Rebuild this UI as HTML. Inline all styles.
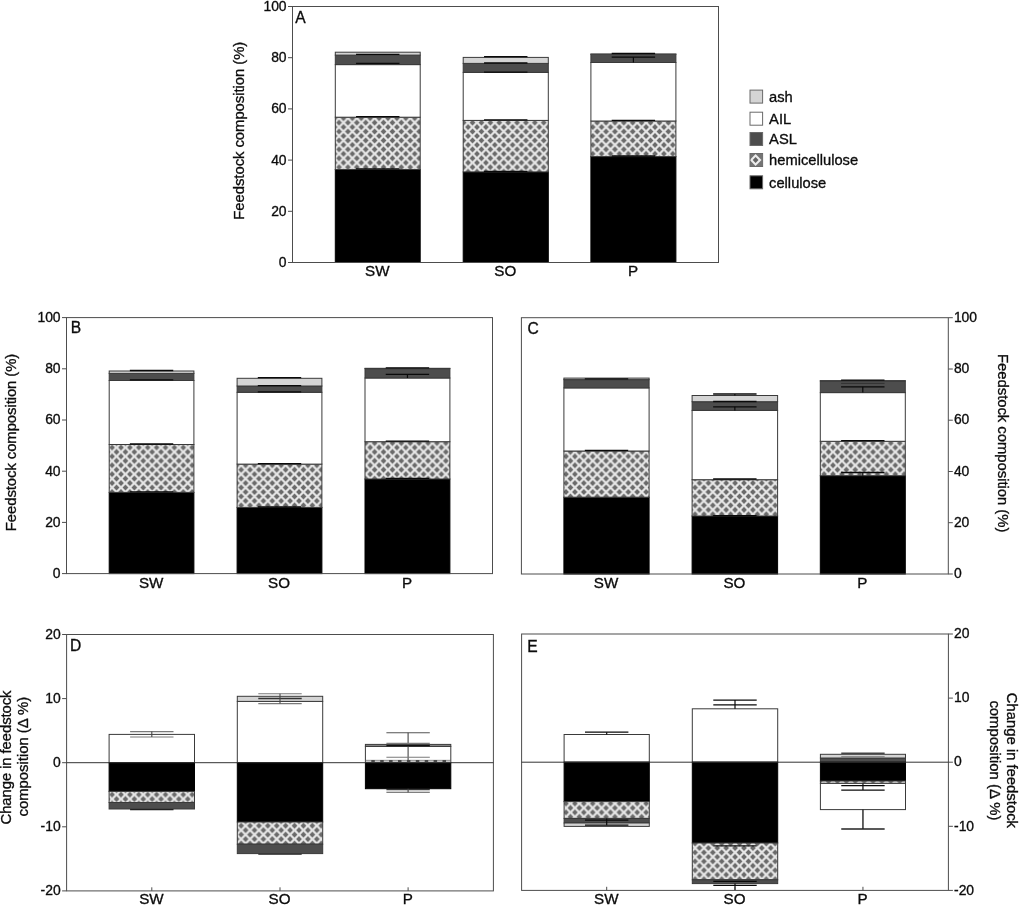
<!DOCTYPE html>
<html lang="en">
<head>
<meta charset="utf-8">
<title>Feedstock composition</title>
<style>
html,body{margin:0;padding:0;background:#ffffff;}
body{width:1019px;height:905px;overflow:hidden;}
svg{display:block;}
text{font-family:"Liberation Sans", Arial, Helvetica, sans-serif;fill:#0c0c0c;stroke:#0c0c0c;stroke-width:0.32px;}
</style>
</head>
<body>
<svg width="1019" height="905" viewBox="0 0 1019 905">
<defs>
<pattern id="hx" x="334.6" y="118.2" width="8.9" height="8.9" patternUnits="userSpaceOnUse">
<rect x="0" y="0" width="8.9" height="8.9" fill="#e6e6e6"/>
<path d="M4.45 1.55 L7.35 4.45 L4.45 7.35 L1.55 4.45 Z" fill="#6a6a6a"/>
<path d="M0 -2.9 L2.9 0 L0 2.9 L-2.9 0 Z M8.9 -2.9 L11.8 0 L8.9 2.9 L6 0 Z M0 6 L2.9 8.9 L0 11.8 L-2.9 8.9 Z M8.9 6 L11.8 8.9 L8.9 11.8 L6 8.9 Z" fill="#6a6a6a"/>
</pattern>
</defs>
<rect x="0" y="0" width="1019" height="905" fill="#ffffff"/>
<g id="A">
<rect x="335.30" y="169.50" width="84.90" height="93.00" fill="#000000" stroke="#000000" stroke-width="1"/>
<rect x="335.30" y="117.20" width="84.90" height="52.30" fill="url(#hx)" stroke="#3a3a3a" stroke-width="1"/>
<rect x="335.30" y="64.60" width="84.90" height="52.60" fill="#ffffff" stroke="#3a3a3a" stroke-width="1"/>
<rect x="335.30" y="55.10" width="84.90" height="9.50" fill="#4d4d4d" stroke="#3a3a3a" stroke-width="1"/>
<rect x="335.30" y="52.20" width="84.90" height="2.90" fill="#d4d4d4" stroke="#3a3a3a" stroke-width="1"/>
<line x1="356.05" y1="168.90" x2="399.45" y2="168.90" stroke="#0a0a0a" stroke-width="1.3"/>
<line x1="356.05" y1="116.60" x2="399.45" y2="116.60" stroke="#0a0a0a" stroke-width="1.3"/>
<line x1="356.05" y1="63.30" x2="399.45" y2="63.30" stroke="#0a0a0a" stroke-width="1.3"/>
<line x1="356.05" y1="54.40" x2="399.45" y2="54.40" stroke="#0a0a0a" stroke-width="1.3"/>
<rect x="463.20" y="171.90" width="85.10" height="90.60" fill="#000000" stroke="#000000" stroke-width="1"/>
<rect x="463.20" y="120.40" width="85.10" height="51.50" fill="url(#hx)" stroke="#3a3a3a" stroke-width="1"/>
<rect x="463.20" y="72.40" width="85.10" height="48.00" fill="#ffffff" stroke="#3a3a3a" stroke-width="1"/>
<rect x="463.20" y="63.40" width="85.10" height="9.00" fill="#4d4d4d" stroke="#3a3a3a" stroke-width="1"/>
<rect x="463.20" y="57.40" width="85.10" height="6.00" fill="#d4d4d4" stroke="#3a3a3a" stroke-width="1"/>
<line x1="484.05" y1="171.30" x2="527.45" y2="171.30" stroke="#0a0a0a" stroke-width="1.3"/>
<line x1="484.05" y1="119.90" x2="527.45" y2="119.90" stroke="#0a0a0a" stroke-width="1.3"/>
<line x1="484.05" y1="72.20" x2="527.45" y2="72.20" stroke="#0a0a0a" stroke-width="1.3"/>
<line x1="484.05" y1="63.00" x2="527.45" y2="63.00" stroke="#0a0a0a" stroke-width="1.3"/>
<line x1="484.05" y1="56.70" x2="527.45" y2="56.70" stroke="#0a0a0a" stroke-width="1.3"/>
<rect x="590.90" y="156.60" width="85.00" height="105.90" fill="#000000" stroke="#000000" stroke-width="1"/>
<rect x="590.90" y="121.00" width="85.00" height="35.60" fill="url(#hx)" stroke="#3a3a3a" stroke-width="1"/>
<rect x="590.90" y="62.50" width="85.00" height="58.50" fill="#ffffff" stroke="#3a3a3a" stroke-width="1"/>
<rect x="590.90" y="54.30" width="85.00" height="8.20" fill="#4d4d4d" stroke="#3a3a3a" stroke-width="1"/>
<rect x="590.90" y="54.00" width="85.00" height="0.30" fill="#d4d4d4" stroke="#3a3a3a" stroke-width="1"/>
<line x1="611.70" y1="156.00" x2="655.10" y2="156.00" stroke="#0a0a0a" stroke-width="1.3"/>
<line x1="611.70" y1="120.40" x2="655.10" y2="120.40" stroke="#0a0a0a" stroke-width="1.3"/>
<line x1="611.70" y1="57.20" x2="655.10" y2="57.20" stroke="#0a0a0a" stroke-width="1.3"/>
<line x1="611.70" y1="53.50" x2="655.10" y2="53.50" stroke="#0a0a0a" stroke-width="1.3"/>
<line x1="633.40" y1="57.20" x2="633.40" y2="62.50" stroke="#0a0a0a" stroke-width="1.2"/>
<rect x="292.50" y="6.50" width="426.00" height="256.00" fill="none" stroke="#4d4d4d" stroke-width="1"/>
<line x1="288.00" y1="6.50" x2="292.50" y2="6.50" stroke="#4d4d4d" stroke-width="1"/>
<text x="286.60" y="10.98" font-size="13.9" text-anchor="end">100</text>
<line x1="288.00" y1="57.70" x2="292.50" y2="57.70" stroke="#4d4d4d" stroke-width="1"/>
<text x="286.60" y="62.18" font-size="13.9" text-anchor="end">80</text>
<line x1="288.00" y1="108.90" x2="292.50" y2="108.90" stroke="#4d4d4d" stroke-width="1"/>
<text x="286.60" y="113.38" font-size="13.9" text-anchor="end">60</text>
<line x1="288.00" y1="160.10" x2="292.50" y2="160.10" stroke="#4d4d4d" stroke-width="1"/>
<text x="286.60" y="164.58" font-size="13.9" text-anchor="end">40</text>
<line x1="288.00" y1="211.30" x2="292.50" y2="211.30" stroke="#4d4d4d" stroke-width="1"/>
<text x="286.60" y="215.78" font-size="13.9" text-anchor="end">20</text>
<line x1="288.00" y1="262.50" x2="292.50" y2="262.50" stroke="#4d4d4d" stroke-width="1"/>
<text x="286.60" y="266.98" font-size="13.9" text-anchor="end">0</text>
<text x="295.20" y="23.10" font-size="15.6" text-anchor="start">A</text>
<text x="377.35" y="276.30" font-size="15.2" text-anchor="middle">SW</text>
<text x="505.35" y="276.30" font-size="15.2" text-anchor="middle">SO</text>
<text x="633.00" y="276.30" font-size="15.2" text-anchor="middle">P</text>
<text x="243.90" y="130.70" font-size="14.9" text-anchor="middle" transform="rotate(-90 243.90 130.70)" textLength="178.0" lengthAdjust="spacing">Feedstock composition (%)</text>
</g>
<g id="B">
<rect x="109.20" y="492.40" width="84.70" height="81.20" fill="#000000" stroke="#000000" stroke-width="1"/>
<rect x="109.20" y="444.50" width="84.70" height="47.90" fill="url(#hx)" stroke="#3a3a3a" stroke-width="1"/>
<rect x="109.20" y="380.50" width="84.70" height="64.00" fill="#ffffff" stroke="#3a3a3a" stroke-width="1"/>
<rect x="109.20" y="373.40" width="84.70" height="7.10" fill="#4d4d4d" stroke="#3a3a3a" stroke-width="1"/>
<rect x="109.20" y="371.00" width="84.70" height="2.40" fill="#d4d4d4" stroke="#3a3a3a" stroke-width="1"/>
<line x1="129.85" y1="491.90" x2="173.25" y2="491.90" stroke="#0a0a0a" stroke-width="1.3"/>
<line x1="129.85" y1="444.00" x2="173.25" y2="444.00" stroke="#0a0a0a" stroke-width="1.3"/>
<line x1="129.85" y1="379.80" x2="173.25" y2="379.80" stroke="#0a0a0a" stroke-width="1.3"/>
<line x1="129.85" y1="370.50" x2="173.25" y2="370.50" stroke="#0a0a0a" stroke-width="1.3"/>
<rect x="237.10" y="507.40" width="84.80" height="66.20" fill="#000000" stroke="#000000" stroke-width="1"/>
<rect x="237.10" y="464.10" width="84.80" height="43.30" fill="url(#hx)" stroke="#3a3a3a" stroke-width="1"/>
<rect x="237.10" y="392.30" width="84.80" height="71.80" fill="#ffffff" stroke="#3a3a3a" stroke-width="1"/>
<rect x="237.10" y="386.00" width="84.80" height="6.30" fill="#4d4d4d" stroke="#3a3a3a" stroke-width="1"/>
<rect x="237.10" y="378.30" width="84.80" height="7.70" fill="#d4d4d4" stroke="#3a3a3a" stroke-width="1"/>
<line x1="257.80" y1="507.00" x2="301.20" y2="507.00" stroke="#0a0a0a" stroke-width="1.3"/>
<line x1="257.80" y1="463.60" x2="301.20" y2="463.60" stroke="#0a0a0a" stroke-width="1.3"/>
<line x1="257.80" y1="391.80" x2="301.20" y2="391.80" stroke="#0a0a0a" stroke-width="1.3"/>
<line x1="257.80" y1="385.60" x2="301.20" y2="385.60" stroke="#0a0a0a" stroke-width="1.3"/>
<line x1="257.80" y1="377.60" x2="301.20" y2="377.60" stroke="#0a0a0a" stroke-width="1.3"/>
<rect x="365.00" y="479.00" width="84.90" height="94.60" fill="#000000" stroke="#000000" stroke-width="1"/>
<rect x="365.00" y="441.70" width="84.90" height="37.30" fill="url(#hx)" stroke="#3a3a3a" stroke-width="1"/>
<rect x="365.00" y="378.00" width="84.90" height="63.70" fill="#ffffff" stroke="#3a3a3a" stroke-width="1"/>
<rect x="365.00" y="368.60" width="84.90" height="9.40" fill="#4d4d4d" stroke="#3a3a3a" stroke-width="1"/>
<rect x="365.00" y="368.30" width="84.90" height="0.30" fill="#d4d4d4" stroke="#3a3a3a" stroke-width="1"/>
<line x1="385.75" y1="478.40" x2="429.15" y2="478.40" stroke="#0a0a0a" stroke-width="1.3"/>
<line x1="385.75" y1="441.10" x2="429.15" y2="441.10" stroke="#0a0a0a" stroke-width="1.3"/>
<line x1="385.75" y1="374.30" x2="429.15" y2="374.30" stroke="#0a0a0a" stroke-width="1.3"/>
<line x1="385.75" y1="367.80" x2="429.15" y2="367.80" stroke="#0a0a0a" stroke-width="1.3"/>
<line x1="407.45" y1="374.30" x2="407.45" y2="378.00" stroke="#0a0a0a" stroke-width="1.2"/>
<rect x="66.50" y="317.60" width="426.00" height="256.00" fill="none" stroke="#4d4d4d" stroke-width="1"/>
<line x1="62.00" y1="317.60" x2="66.50" y2="317.60" stroke="#4d4d4d" stroke-width="1"/>
<text x="60.60" y="322.08" font-size="13.9" text-anchor="end">100</text>
<line x1="62.00" y1="368.80" x2="66.50" y2="368.80" stroke="#4d4d4d" stroke-width="1"/>
<text x="60.60" y="373.28" font-size="13.9" text-anchor="end">80</text>
<line x1="62.00" y1="420.00" x2="66.50" y2="420.00" stroke="#4d4d4d" stroke-width="1"/>
<text x="60.60" y="424.48" font-size="13.9" text-anchor="end">60</text>
<line x1="62.00" y1="471.20" x2="66.50" y2="471.20" stroke="#4d4d4d" stroke-width="1"/>
<text x="60.60" y="475.68" font-size="13.9" text-anchor="end">40</text>
<line x1="62.00" y1="522.40" x2="66.50" y2="522.40" stroke="#4d4d4d" stroke-width="1"/>
<text x="60.60" y="526.88" font-size="13.9" text-anchor="end">20</text>
<line x1="62.00" y1="573.60" x2="66.50" y2="573.60" stroke="#4d4d4d" stroke-width="1"/>
<text x="60.60" y="578.08" font-size="13.9" text-anchor="end">0</text>
<text x="70.70" y="332.80" font-size="15.6" text-anchor="start">B</text>
<text x="151.15" y="587.80" font-size="15.2" text-anchor="middle">SW</text>
<text x="279.10" y="587.80" font-size="15.2" text-anchor="middle">SO</text>
<text x="407.05" y="587.80" font-size="15.2" text-anchor="middle">P</text>
<text x="16.20" y="442.40" font-size="14.9" text-anchor="middle" transform="rotate(-90 16.20 442.40)" textLength="177.5" lengthAdjust="spacing">Feedstock composition (%)</text>
</g>
<g id="C">
<rect x="563.90" y="497.20" width="85.20" height="76.80" fill="#000000" stroke="#000000" stroke-width="1"/>
<rect x="563.90" y="451.00" width="85.20" height="46.20" fill="url(#hx)" stroke="#3a3a3a" stroke-width="1"/>
<rect x="563.90" y="387.90" width="85.20" height="63.10" fill="#ffffff" stroke="#3a3a3a" stroke-width="1"/>
<rect x="563.90" y="379.60" width="85.20" height="8.30" fill="#4d4d4d" stroke="#3a3a3a" stroke-width="1"/>
<rect x="563.90" y="378.10" width="85.20" height="1.50" fill="#d4d4d4" stroke="#3a3a3a" stroke-width="1"/>
<line x1="584.80" y1="450.30" x2="628.20" y2="450.30" stroke="#0a0a0a" stroke-width="1.3"/>
<line x1="584.80" y1="378.80" x2="628.20" y2="378.80" stroke="#0a0a0a" stroke-width="1.3"/>
<rect x="692.10" y="516.00" width="85.50" height="58.00" fill="#000000" stroke="#000000" stroke-width="1"/>
<rect x="692.10" y="479.70" width="85.50" height="36.30" fill="url(#hx)" stroke="#3a3a3a" stroke-width="1"/>
<rect x="692.10" y="410.40" width="85.50" height="69.30" fill="#ffffff" stroke="#3a3a3a" stroke-width="1"/>
<rect x="692.10" y="401.70" width="85.50" height="8.70" fill="#4d4d4d" stroke="#3a3a3a" stroke-width="1"/>
<rect x="692.10" y="395.50" width="85.50" height="6.20" fill="#d4d4d4" stroke="#3a3a3a" stroke-width="1"/>
<line x1="713.15" y1="515.60" x2="756.55" y2="515.60" stroke="#0a0a0a" stroke-width="1.3"/>
<line x1="713.15" y1="479.00" x2="756.55" y2="479.00" stroke="#0a0a0a" stroke-width="1.3"/>
<line x1="713.15" y1="406.80" x2="756.55" y2="406.80" stroke="#0a0a0a" stroke-width="1.3"/>
<line x1="713.15" y1="401.50" x2="756.55" y2="401.50" stroke="#0a0a0a" stroke-width="1.3"/>
<line x1="713.15" y1="394.00" x2="756.55" y2="394.00" stroke="#0a0a0a" stroke-width="1.3"/>
<line x1="734.85" y1="406.80" x2="734.85" y2="410.40" stroke="#0a0a0a" stroke-width="1.2"/>
<line x1="734.85" y1="394.00" x2="734.85" y2="395.50" stroke="#0a0a0a" stroke-width="1.2"/>
<rect x="820.30" y="475.70" width="85.00" height="98.30" fill="#000000" stroke="#000000" stroke-width="1"/>
<rect x="820.30" y="441.30" width="85.00" height="34.40" fill="url(#hx)" stroke="#3a3a3a" stroke-width="1"/>
<rect x="820.30" y="392.60" width="85.00" height="48.70" fill="#ffffff" stroke="#3a3a3a" stroke-width="1"/>
<rect x="820.30" y="381.00" width="85.00" height="11.60" fill="#4d4d4d" stroke="#3a3a3a" stroke-width="1"/>
<rect x="820.30" y="380.60" width="85.00" height="0.40" fill="#d4d4d4" stroke="#3a3a3a" stroke-width="1"/>
<line x1="841.10" y1="472.50" x2="884.50" y2="472.50" stroke="#0a0a0a" stroke-width="1.3"/>
<line x1="841.10" y1="440.60" x2="884.50" y2="440.60" stroke="#0a0a0a" stroke-width="1.3"/>
<line x1="841.10" y1="386.80" x2="884.50" y2="386.80" stroke="#0a0a0a" stroke-width="1.3"/>
<line x1="841.10" y1="380.20" x2="884.50" y2="380.20" stroke="#0a0a0a" stroke-width="1.3"/>
<line x1="841.10" y1="383.40" x2="884.50" y2="383.40" stroke="#2c2c2c" stroke-width="0.8"/>
<line x1="862.80" y1="472.50" x2="862.80" y2="475.70" stroke="#0a0a0a" stroke-width="1.2"/>
<line x1="862.80" y1="386.80" x2="862.80" y2="392.60" stroke="#0a0a0a" stroke-width="1.2"/>
<rect x="521.40" y="317.70" width="426.90" height="256.30" fill="none" stroke="#4d4d4d" stroke-width="1"/>
<line x1="948.30" y1="317.70" x2="952.80" y2="317.70" stroke="#4d4d4d" stroke-width="1"/>
<text x="953.90" y="321.98" font-size="13.9" text-anchor="start">100</text>
<line x1="948.30" y1="369.00" x2="952.80" y2="369.00" stroke="#4d4d4d" stroke-width="1"/>
<text x="953.90" y="373.28" font-size="13.9" text-anchor="start">80</text>
<line x1="948.30" y1="420.20" x2="952.80" y2="420.20" stroke="#4d4d4d" stroke-width="1"/>
<text x="953.90" y="424.48" font-size="13.9" text-anchor="start">60</text>
<line x1="948.30" y1="471.50" x2="952.80" y2="471.50" stroke="#4d4d4d" stroke-width="1"/>
<text x="953.90" y="475.78" font-size="13.9" text-anchor="start">40</text>
<line x1="948.30" y1="522.70" x2="952.80" y2="522.70" stroke="#4d4d4d" stroke-width="1"/>
<text x="953.90" y="526.98" font-size="13.9" text-anchor="start">20</text>
<line x1="948.30" y1="574.00" x2="952.80" y2="574.00" stroke="#4d4d4d" stroke-width="1"/>
<text x="953.90" y="578.28" font-size="13.9" text-anchor="start">0</text>
<text x="527.40" y="333.70" font-size="15.6" text-anchor="start">C</text>
<text x="606.10" y="587.80" font-size="15.2" text-anchor="middle">SW</text>
<text x="734.45" y="587.80" font-size="15.2" text-anchor="middle">SO</text>
<text x="862.40" y="587.80" font-size="15.2" text-anchor="middle">P</text>
<text x="998.20" y="443.20" font-size="14.9" text-anchor="middle" transform="rotate(90 998.20 443.20)" textLength="178.5" lengthAdjust="spacing">Feedstock composition (%)</text>
</g>
<g id="D">
<rect x="109.10" y="734.40" width="85.40" height="28.30" fill="#ffffff" stroke="#3a3a3a" stroke-width="1"/>
<rect x="109.10" y="762.70" width="85.40" height="28.70" fill="#000000" stroke="#000000" stroke-width="1"/>
<rect x="109.10" y="791.40" width="85.40" height="11.10" fill="url(#hx)" stroke="#3a3a3a" stroke-width="1"/>
<rect x="109.10" y="802.50" width="85.40" height="6.50" fill="#4d4d4d" stroke="#3a3a3a" stroke-width="1"/>
<line x1="130.10" y1="731.60" x2="173.50" y2="731.60" stroke="#7a7a7a" stroke-width="1.1"/>
<line x1="130.10" y1="737.00" x2="173.50" y2="737.00" stroke="#7a7a7a" stroke-width="1.1"/>
<line x1="151.80" y1="731.60" x2="151.80" y2="737.00" stroke="#444" stroke-width="1.1"/>
<line x1="130.10" y1="809.60" x2="173.50" y2="809.60" stroke="#222" stroke-width="1.1"/>
<rect x="237.30" y="701.40" width="85.40" height="61.30" fill="#ffffff" stroke="#3a3a3a" stroke-width="1"/>
<rect x="237.30" y="696.30" width="85.40" height="5.10" fill="#d4d4d4" stroke="#3a3a3a" stroke-width="1"/>
<rect x="237.30" y="762.70" width="85.40" height="59.30" fill="#000000" stroke="#000000" stroke-width="1"/>
<rect x="237.30" y="822.00" width="85.40" height="22.20" fill="url(#hx)" stroke="#3a3a3a" stroke-width="1"/>
<rect x="237.30" y="844.20" width="85.40" height="9.40" fill="#4d4d4d" stroke="#3a3a3a" stroke-width="1"/>
<line x1="258.30" y1="693.70" x2="301.70" y2="693.70" stroke="#7a7a7a" stroke-width="1.1"/>
<line x1="258.30" y1="698.50" x2="301.70" y2="698.50" stroke="#333" stroke-width="1.3"/>
<line x1="258.30" y1="703.60" x2="301.70" y2="703.60" stroke="#7a7a7a" stroke-width="1.1"/>
<line x1="280.00" y1="693.70" x2="280.00" y2="703.60" stroke="#444" stroke-width="1.1"/>
<line x1="258.30" y1="854.20" x2="301.70" y2="854.20" stroke="#222" stroke-width="1.1"/>
<rect x="365.40" y="746.40" width="85.40" height="16.30" fill="#ffffff" stroke="#3a3a3a" stroke-width="1"/>
<rect x="365.40" y="744.4" width="85.40" height="2.0" fill="#8c8c8c" stroke="#3a3a3a" stroke-width="1"/>
<rect x="365.40" y="762.70" width="85.40" height="26.00" fill="#000000" stroke="#000000" stroke-width="1"/>
<rect x="365.40" y="759.9" width="85.40" height="2.8" fill="#4a4a4a"/>
<line x1="365.90" y1="761.1" x2="450.30" y2="761.1" stroke="#f2f2f2" stroke-width="1.3" stroke-dasharray="5.4 3.5"/>
<line x1="386.40" y1="732.70" x2="429.80" y2="732.70" stroke="#555" stroke-width="1.1"/>
<line x1="408.10" y1="732.70" x2="408.10" y2="762.70" stroke="#444" stroke-width="1.1"/>
<line x1="386.40" y1="743.40" x2="429.80" y2="743.40" stroke="#7a7a7a" stroke-width="1.1"/>
<line x1="386.40" y1="745.70" x2="429.80" y2="745.70" stroke="#111" stroke-width="1.3"/>
<line x1="386.40" y1="757.30" x2="429.80" y2="757.30" stroke="#7a7a7a" stroke-width="1.1"/>
<line x1="386.40" y1="789.60" x2="429.80" y2="789.60" stroke="#333" stroke-width="1.1"/>
<line x1="386.40" y1="792.30" x2="429.80" y2="792.30" stroke="#555" stroke-width="1.1"/>
<line x1="408.10" y1="788.70" x2="408.10" y2="792.30" stroke="#444" stroke-width="1.1"/>
<rect x="66.60" y="634.50" width="426.80" height="256.40" fill="none" stroke="#4d4d4d" stroke-width="1"/>
<line x1="62.10" y1="634.50" x2="66.60" y2="634.50" stroke="#4d4d4d" stroke-width="1"/>
<text x="60.70" y="638.98" font-size="13.9" text-anchor="end">20</text>
<line x1="62.10" y1="698.60" x2="66.60" y2="698.60" stroke="#4d4d4d" stroke-width="1"/>
<text x="60.70" y="703.08" font-size="13.9" text-anchor="end">10</text>
<line x1="62.10" y1="762.70" x2="66.60" y2="762.70" stroke="#4d4d4d" stroke-width="1"/>
<text x="60.70" y="767.18" font-size="13.9" text-anchor="end">0</text>
<line x1="62.10" y1="826.80" x2="66.60" y2="826.80" stroke="#4d4d4d" stroke-width="1"/>
<text x="60.70" y="831.28" font-size="13.9" text-anchor="end">-10</text>
<line x1="62.10" y1="890.90" x2="66.60" y2="890.90" stroke="#4d4d4d" stroke-width="1"/>
<text x="60.70" y="895.38" font-size="13.9" text-anchor="end">-20</text>
<line x1="66.60" y1="762.70" x2="493.40" y2="762.70" stroke="#333" stroke-width="1"/>
<line x1="151.80" y1="887.30" x2="151.80" y2="890.90" stroke="#4d4d4d" stroke-width="1"/>
<line x1="280.00" y1="887.30" x2="280.00" y2="890.90" stroke="#4d4d4d" stroke-width="1"/>
<line x1="408.10" y1="887.30" x2="408.10" y2="890.90" stroke="#4d4d4d" stroke-width="1"/>
<text x="70.10" y="651.20" font-size="15.6" text-anchor="start">D</text>
<text x="151.40" y="904.00" font-size="15.2" text-anchor="middle">SW</text>
<text x="279.60" y="904.00" font-size="15.2" text-anchor="middle">SO</text>
<text x="407.70" y="904.00" font-size="15.2" text-anchor="middle">P</text>
<text x="10.90" y="757.50" font-size="14.9" text-anchor="middle" transform="rotate(-90 10.90 757.50)" textLength="134.0" lengthAdjust="spacing">Change in feedstock</text>
<text x="28.00" y="756.70" font-size="14.9" text-anchor="middle" transform="rotate(-90 28.00 756.70)" textLength="119.6" lengthAdjust="spacing">composition (Δ %)</text>
</g>
<g id="E">
<rect x="564.10" y="734.50" width="85.20" height="27.70" fill="#ffffff" stroke="#3a3a3a" stroke-width="1"/>
<rect x="564.10" y="762.20" width="85.20" height="39.40" fill="#000000" stroke="#000000" stroke-width="1"/>
<rect x="564.10" y="801.60" width="85.20" height="16.80" fill="url(#hx)" stroke="#3a3a3a" stroke-width="1"/>
<rect x="564.10" y="818.40" width="85.20" height="4.60" fill="#4d4d4d" stroke="#3a3a3a" stroke-width="1"/>
<rect x="564.10" y="823.00" width="85.20" height="3.40" fill="#d4d4d4" stroke="#3a3a3a" stroke-width="1"/>
<line x1="585.00" y1="732.20" x2="628.40" y2="732.20" stroke="#0a0a0a" stroke-width="1.3"/>
<line x1="606.70" y1="732.20" x2="606.70" y2="734.50" stroke="#0a0a0a" stroke-width="1.2"/>
<line x1="585.00" y1="820.20" x2="628.40" y2="820.20" stroke="#0a0a0a" stroke-width="1.3"/>
<line x1="585.00" y1="825.20" x2="628.40" y2="825.20" stroke="#0a0a0a" stroke-width="1.3"/>
<line x1="606.70" y1="818.40" x2="606.70" y2="825.20" stroke="#0a0a0a" stroke-width="1.2"/>
<rect x="692.30" y="708.80" width="85.40" height="53.40" fill="#ffffff" stroke="#3a3a3a" stroke-width="1"/>
<rect x="692.30" y="762.20" width="85.40" height="80.80" fill="#000000" stroke="#000000" stroke-width="1"/>
<rect x="692.30" y="843.00" width="85.40" height="36.80" fill="url(#hx)" stroke="#3a3a3a" stroke-width="1"/>
<rect x="692.30" y="879.80" width="85.40" height="3.80" fill="#4d4d4d" stroke="#3a3a3a" stroke-width="1"/>
<line x1="713.30" y1="700.10" x2="756.70" y2="700.10" stroke="#0a0a0a" stroke-width="1.3"/>
<line x1="713.30" y1="704.80" x2="756.70" y2="704.80" stroke="#0a0a0a" stroke-width="1.3"/>
<line x1="735.00" y1="700.10" x2="735.00" y2="708.80" stroke="#0a0a0a" stroke-width="1.2"/>
<line x1="713.30" y1="845.90" x2="756.70" y2="845.90" stroke="#111" stroke-width="1.1"/>
<line x1="713.30" y1="881.30" x2="756.70" y2="881.30" stroke="#0a0a0a" stroke-width="1.3"/>
<line x1="713.30" y1="885.30" x2="756.70" y2="885.30" stroke="#0a0a0a" stroke-width="1.3"/>
<line x1="735.00" y1="883.60" x2="735.00" y2="890.40" stroke="#0a0a0a" stroke-width="1.2"/>
<rect x="820.40" y="758.00" width="85.10" height="4.20" fill="#4d4d4d" stroke="#3a3a3a" stroke-width="1"/>
<rect x="820.40" y="754.30" width="85.10" height="3.70" fill="#d4d4d4" stroke="#3a3a3a" stroke-width="1"/>
<rect x="820.40" y="762.20" width="85.10" height="18.80" fill="#000000" stroke="#000000" stroke-width="1"/>
<rect x="820.40" y="781.00" width="85.10" height="2.40" fill="url(#hx)" stroke="#3a3a3a" stroke-width="1"/>
<rect x="820.40" y="783.40" width="85.10" height="26.20" fill="#ffffff" stroke="#3a3a3a" stroke-width="1"/>
<line x1="841.25" y1="753.20" x2="884.65" y2="753.20" stroke="#444" stroke-width="1.6"/>
<line x1="841.25" y1="756.70" x2="884.65" y2="756.70" stroke="#777" stroke-width="1.1"/>
<line x1="841.25" y1="785.70" x2="884.65" y2="785.70" stroke="#0a0a0a" stroke-width="1.3"/>
<line x1="841.25" y1="790.10" x2="884.65" y2="790.10" stroke="#0a0a0a" stroke-width="1.3"/>
<line x1="862.95" y1="783.40" x2="862.95" y2="790.10" stroke="#0a0a0a" stroke-width="1.2"/>
<line x1="862.95" y1="809.60" x2="862.95" y2="828.90" stroke="#222" stroke-width="1.4"/>
<line x1="841.25" y1="828.90" x2="884.65" y2="828.90" stroke="#222" stroke-width="1.5"/>
<rect x="521.60" y="634.00" width="426.80" height="256.40" fill="none" stroke="#4d4d4d" stroke-width="1"/>
<line x1="948.40" y1="634.00" x2="952.90" y2="634.00" stroke="#4d4d4d" stroke-width="1"/>
<text x="954.00" y="638.28" font-size="13.9" text-anchor="start">20</text>
<line x1="948.40" y1="698.10" x2="952.90" y2="698.10" stroke="#4d4d4d" stroke-width="1"/>
<text x="954.00" y="702.38" font-size="13.9" text-anchor="start">10</text>
<line x1="948.40" y1="762.20" x2="952.90" y2="762.20" stroke="#4d4d4d" stroke-width="1"/>
<text x="954.00" y="766.48" font-size="13.9" text-anchor="start">0</text>
<line x1="948.40" y1="826.30" x2="952.90" y2="826.30" stroke="#4d4d4d" stroke-width="1"/>
<text x="954.00" y="830.58" font-size="13.9" text-anchor="start">-10</text>
<line x1="948.40" y1="890.40" x2="952.90" y2="890.40" stroke="#4d4d4d" stroke-width="1"/>
<text x="954.00" y="894.68" font-size="13.9" text-anchor="start">-20</text>
<line x1="521.60" y1="762.20" x2="948.40" y2="762.20" stroke="#333" stroke-width="1"/>
<line x1="606.70" y1="886.80" x2="606.70" y2="890.40" stroke="#4d4d4d" stroke-width="1"/>
<line x1="735.00" y1="886.80" x2="735.00" y2="890.40" stroke="#4d4d4d" stroke-width="1"/>
<line x1="862.95" y1="886.80" x2="862.95" y2="890.40" stroke="#4d4d4d" stroke-width="1"/>
<text x="527.20" y="651.70" font-size="15.6" text-anchor="start">E</text>
<text x="606.30" y="904.00" font-size="15.2" text-anchor="middle">SW</text>
<text x="734.60" y="904.00" font-size="15.2" text-anchor="middle">SO</text>
<text x="862.55" y="904.00" font-size="15.2" text-anchor="middle">P</text>
<text x="1007.30" y="760.40" font-size="14.9" text-anchor="middle" transform="rotate(90 1007.30 760.40)" textLength="135.2" lengthAdjust="spacing">Change in feedstock</text>
<text x="990.30" y="760.40" font-size="14.9" text-anchor="middle" transform="rotate(90 990.30 760.40)" textLength="120.0" lengthAdjust="spacing">composition (Δ %)</text>
</g>
<g id="legend">
<rect x="750.0" y="90.1" width="12.6" height="13.0" fill="#d4d4d4" stroke="#6a6a6a" stroke-width="1"/>
<text x="769.10" y="102.00" font-size="14.7" text-anchor="start">ash</text>
<rect x="750.0" y="112.2" width="12.6" height="13.0" fill="#ffffff" stroke="#6a6a6a" stroke-width="1"/>
<text x="769.10" y="124.10" font-size="14.7" text-anchor="start">AIL</text>
<rect x="750.0" y="132.5" width="12.6" height="13.0" fill="#4d4d4d" stroke="#6a6a6a" stroke-width="1"/>
<text x="769.10" y="144.40" font-size="14.7" text-anchor="start">ASL</text>
<svg x="750.0" y="153.5" width="12.6" height="13.0" viewBox="0 0 12.6 13.0"><rect width="12.6" height="13.0" fill="#747474"/><path d="M5.6 0.6 L11.5 6.5 L5.6 12.4 L-0.3 6.5 Z" fill="#ececec"/><path d="M5.6 3.6 L8.5 6.5 L5.6 9.4 L2.7 6.5 Z" fill="#646464"/></svg>
<rect x="750.0" y="153.5" width="12.6" height="13.0" fill="none" stroke="#6a6a6a" stroke-width="1"/>
<text x="769.10" y="165.40" font-size="14.7" text-anchor="start">hemicellulose</text>
<rect x="750.0" y="175.8" width="12.6" height="13.0" fill="#000000" stroke="#6a6a6a" stroke-width="1"/>
<text x="769.10" y="187.70" font-size="14.7" text-anchor="start">cellulose</text>
</g>
</svg>
</body>
</html>
